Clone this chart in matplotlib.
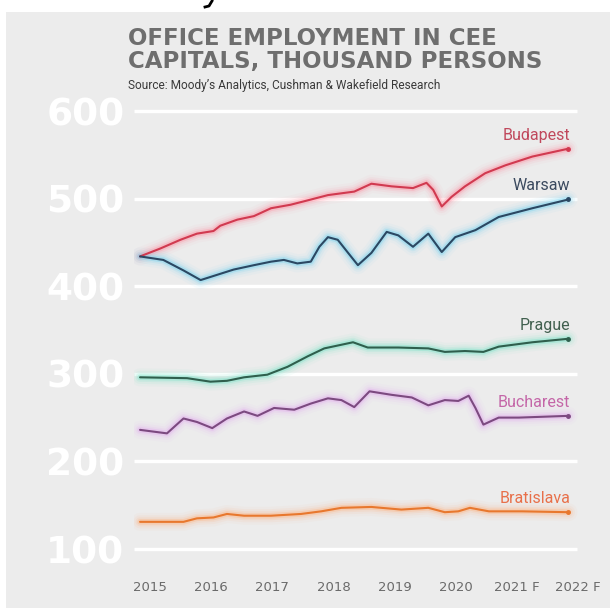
import matplotlib
matplotlib.use("Agg")
import matplotlib.pyplot as plt
from matplotlib.patches import Rectangle
from matplotlib.lines import Line2D

# Office employment, thousand persons (time in fractional years)
budapest_t = [2015.00, 2015.33, 2015.66, 2015.93, 2016.20, 2016.31, 2016.59, 2016.86,
              2017.14, 2017.46, 2017.74, 2018.07, 2018.50, 2018.78, 2019.11, 2019.46,
              2019.68, 2019.79, 2019.93, 2020.09, 2020.31, 2020.64, 2020.97, 2021.41, 2022.00]
budapest_v = [434, 443, 453, 460, 463, 469, 476, 480,
              489, 493, 498, 504, 508, 517, 514, 512,
              518, 510, 491, 502, 514, 529, 538, 548, 557]

warsaw_t = [2015.00, 2015.38, 2015.71, 2015.99, 2016.26, 2016.53, 2016.86, 2017.14,
            2017.35, 2017.57, 2017.79, 2017.93, 2018.07, 2018.23, 2018.40, 2018.56,
            2018.78, 2019.03, 2019.22, 2019.46, 2019.71, 2019.93, 2020.15, 2020.48,
            2020.86, 2021.41, 2022.00]
warsaw_v = [434, 430, 418, 407, 413, 419, 424, 428,
            430, 426, 428, 445, 456, 453, 438, 424,
            438, 462, 458, 445, 460, 439, 456, 464,
            479, 489, 499]

prague_t = [2015.00, 2015.77, 2016.15, 2016.42, 2016.70, 2017.08, 2017.41, 2017.74,
            2018.01, 2018.48, 2018.72, 2019.22, 2019.71, 2019.98, 2020.31, 2020.61,
            2020.86, 2021.41, 2022.00]
prague_v = [296, 295, 291, 292, 296, 299, 308, 320,
            329, 336, 330, 330, 329, 325, 326, 325,
            331, 336, 340]

bucharest_t = [2015.00, 2015.44, 2015.71, 2015.93, 2016.18, 2016.42, 2016.70, 2016.92,
               2017.19, 2017.52, 2017.79, 2018.07, 2018.29, 2018.50, 2018.75, 2019.11,
               2019.44, 2019.71, 2019.98, 2020.20, 2020.37, 2020.48, 2020.61, 2020.86,
               2021.19, 2022.00]
bucharest_v = [236, 232, 249, 245, 238, 249, 257, 252,
               261, 259, 266, 272, 270, 262, 280, 276,
               273, 264, 270, 269, 275, 261, 242, 250,
               250, 252]

bratislava_t = [2015.00, 2015.71, 2015.93, 2016.20, 2016.42, 2016.70, 2017.14, 2017.63,
                2017.96, 2018.29, 2018.78, 2019.27, 2019.71, 2019.98, 2020.20, 2020.39,
                2020.70, 2021.24, 2022.00]
bratislava_v = [131, 131, 135, 136, 140, 138, 138, 140,
                143, 147, 148, 145, 147, 142, 143, 147,
                143, 143, 142]

city_names = ["Budapest", "Warsaw", "Prague", "Bucharest", "Bratislava"]
y_ticks = [100, 200, 300, 400, 500, 600]
x_years = [2015, 2016, 2017, 2018, 2019, 2020, 2021, 2022]
x_labels = ["2015", "2016", "2017", "2018", "2019", "2020", "2021 F", "2022 F"]

series = [
    (budapest_t, budapest_v, "#d13a50", "#ff8ea0", "#c0485c"),
    (warsaw_t, warsaw_v, "#2b4863", "#6cd2f2", "#3b4a5f"),
    (prague_t, prague_v, "#2f5f4d", "#6fe2c4", "#41604f"),
    (bucharest_t, bucharest_v, "#7c4a80", "#e2a6ee", "#c466a8"),
    (bratislava_t, bratislava_v, "#e8782e", "#ffb07a", "#e8704a"),
]

W, H = 610, 608
fig = plt.figure(figsize=(W / 100, H / 100), dpi=100, facecolor="white")

# light grey panel behind everything
fig.patches.append(Rectangle((6 / W, 0), 1 - 6 / W, (H - 12) / H,
                             transform=fig.transFigure, facecolor="#ececec",
                             edgecolor="none", zorder=-10))

# axes placement (pixel geometry)
x0, x1 = 2014.9014, 2022.45
y0, y1 = 90, 615
ax_left_px, ax_right_px = 134, 596
ax_top_px = 111 - (y1 - 600) * 0.876
ax_bot_px = 549 + (100 - y0) * 0.876
ax = fig.add_axes([ax_left_px / W, 1 - ax_bot_px / H,
                   (ax_right_px - ax_left_px) / W, (ax_bot_px - ax_top_px) / H])
ax.set_zorder(2)
ax.set_facecolor("none")
ax.set_xlim(x0, x1)
ax.set_ylim(y0, y1)
for s in ax.spines.values():
    s.set_visible(False)

# white gridlines
grid_end = 2022.147
ax.hlines(y_ticks, x0, grid_end, colors="white", linewidth=2.4, zorder=1)

ax.set_yticks(y_ticks)
ax.set_yticklabels([str(v) for v in y_ticks], fontsize=27, fontweight="bold",
                   color="white", family="DejaVu Sans")
ax.tick_params(axis="y", length=0, pad=7)

ax.set_xticks([y + 0.16 for y in x_years])
ax.set_xticklabels(x_labels, fontsize=9.5, color="#6a6a6a", family="DejaVu Sans")
ax.tick_params(axis="x", length=0, pad=17)

# glowing lines
for t, v, core, glow, lab in series:
    for lw, a in [(13, 0.05), (9.5, 0.09), (6.5, 0.15), (4, 0.32)]:
        ax.plot(t, v, color=glow, linewidth=lw, alpha=a, solid_joinstyle="round",
                solid_capstyle="round", zorder=2)
    ax.plot(t, v, color=core, linewidth=1.5, solid_joinstyle="round",
            solid_capstyle="round", zorder=3)
    ax.plot([t[-1]], [v[-1]], marker="o", markersize=2.5, color=core, zorder=4)

for (t, v, core, glow, lab), name in zip(series, city_names):
    ax.annotate(name, xy=(t[-1], v[-1]), xytext=(2, 6), textcoords="offset pixels",
                ha="right", va="bottom", fontsize=11.5, color=lab,
                family="Roboto", zorder=5)

# title and source
fig.text(128 / W, 1 - 27 / H, "OFFICE EMPLOYMENT IN CEE\nCAPITALS, THOUSAND PERSONS",
         ha="left", va="top", fontsize=16.5, fontweight="bold", color="#6e6e6e",
         family="DejaVu Sans", linespacing=1.0)
fig.text(128 / W, 1 - 86 / H, "Source: Moody\u2019s Analytics, Cushman & Wakefield Research",
         ha="left", va="center", fontsize=8.6, color="#3a3a3a", family="Roboto")

# small dark stroke on the top edge
fig.add_artist(Line2D([205 / W, 209 / W, 212 / W], [1 - 7 / H, 1 - 6 / H, 1 - 1 / H],
                      transform=fig.transFigure, color="black", linewidth=2))

fig.savefig("out.png", dpi=100, facecolor="white")
